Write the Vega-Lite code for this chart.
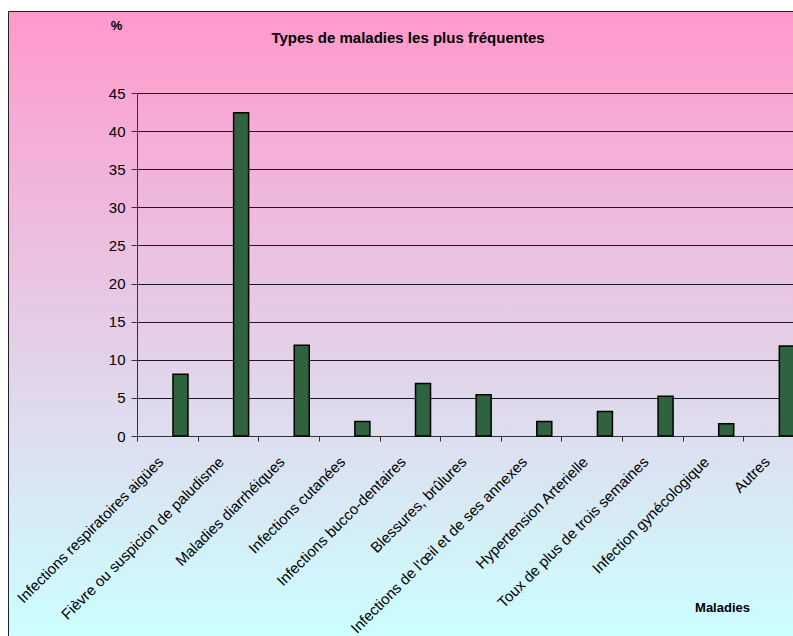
{
  "$schema": "https://vega.github.io/schema/vega-lite/v6.json",
  "width": 786,
  "height": 625,
  "autosize": "none",
  "padding": {"left": 8, "top": 11, "right": 0, "bottom": 0},
  "background": "white",
  "title": {
    "text": "Types de maladies les plus fréquentes",
    "font": "Liberation Sans",
    "fontSize": 15,
    "fontWeight": "bold",
    "color": "black",
    "anchor": "middle",
    "frame": "group",
    "dx": 7,
    "dy": 39
  },
  "data": {
    "values": [
      {"maladie": "Infections respiratoires aigües", "serie": "b", "pct": 8.1},
      {"maladie": "Fièvre ou suspicion de paludisme", "serie": "b", "pct": 42.4},
      {"maladie": "Maladies diarrhéiques", "serie": "b", "pct": 11.9},
      {"maladie": "Infections cutanées", "serie": "b", "pct": 1.9},
      {"maladie": "Infections bucco-dentaires", "serie": "b", "pct": 6.9},
      {"maladie": "Blessures, brûlures", "serie": "b", "pct": 5.4},
      {"maladie": "Infections de l'œil et de ses annexes", "serie": "b", "pct": 1.9},
      {"maladie": "Hypertension Arterielle", "serie": "b", "pct": 3.2},
      {"maladie": "Toux de plus de trois semaines", "serie": "b", "pct": 5.2},
      {"maladie": "Infection gynécologique", "serie": "b", "pct": 1.6},
      {"maladie": "Autres", "serie": "b", "pct": 11.8}
    ]
  },
  "mark": {"type": "bar", "fill": "#2f6340", "stroke": "#000000", "strokeWidth": 1.5},
  "encoding": {
    "x": {
      "field": "maladie",
      "type": "nominal",
      "sort": null,
      "scale": {"range": [129, 796], "paddingInner": 0, "paddingOuter": 0},
      "axis": {
        "orient": "bottom",
        "offset": -200,
        "tickBand": "extent",
        "labelAngle": -45,
        "labelAlign": "right",
        "labelBaseline": "middle",
        "labelFont": "Liberation Sans",
        "labelFontSize": 15,
        "labelColor": "#000000",
        "labelPadding": 18,
        "labelOffset": -7,
        "labelLimit": 0,
        "domainColor": "#333333",
        "tickColor": "#333333",
        "tickSize": 5,
        "grid": false,
        "title": "Maladies",
        "titleFont": "Liberation Sans",
        "titleFontSize": 13,
        "titleFontWeight": "bold",
        "titleColor": "#000000",
        "titleAngle": 0,
        "titleAlign": "center",
        "titleBaseline": "alphabetic",
        "titleX": 714,
        "titleY": 175
      }
    },
    "xOffset": {
      "field": "serie",
      "type": "nominal",
      "scale": {"domain": ["a", "b"], "paddingInner": 0.43, "paddingOuter": 0.367}
    },
    "y": {
      "field": "pct",
      "type": "quantitative",
      "scale": {"domain": [0, 45], "range": [425, 82], "nice": false, "zero": true},
      "axis": {
        "orient": "left",
        "offset": -129,
        "values": [0, 5, 10, 15, 20, 25, 30, 35, 40, 45],
        "grid": true,
        "gridColor": "#1a1a1a",
        "gridWidth": 1,
        "tickSize": 6,
        "tickColor": "#333333",
        "domainColor": "#333333",
        "labelFont": "Liberation Sans",
        "labelFontSize": 15,
        "labelColor": "#000000",
        "labelPadding": 6,
        "title": "%",
        "titleFont": "Liberation Sans",
        "titleFontSize": 13,
        "titleFontWeight": "bold",
        "titleColor": "#000000",
        "titleAngle": 0,
        "titleAlign": "center",
        "titleBaseline": "alphabetic",
        "titleX": -21,
        "titleY": 18
      }
    }
  },
  "config": {
    "font": "Liberation Sans",
    "view": {
      "fill": {
        "gradient": "linear",
        "x1": 0, "y1": 0, "x2": 0, "y2": 1,
        "stops": [
          {"offset": 0, "color": "#ff99cc"},
          {"offset": 1, "color": "#ccffff"}
        ]
      },
      "stroke": "#222222",
      "strokeWidth": 1
    }
  }
}
